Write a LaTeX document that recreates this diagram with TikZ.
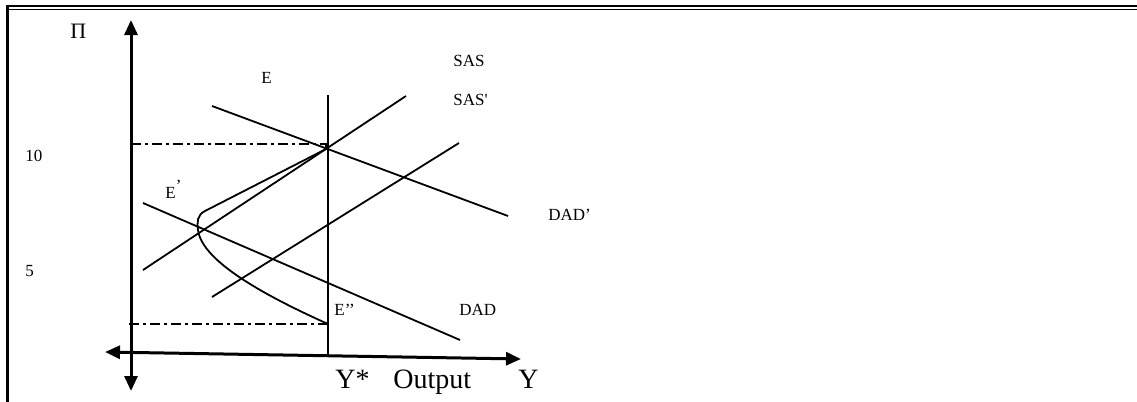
\documentclass[tikz,border=0pt]{standalone}
\usepackage{fontspec}
\setmainfont{Liberation Serif}
\usetikzlibrary{arrows.meta}

\begin{document}
\begin{tikzpicture}[
            x=0.5pt, y=-0.5pt,
            every node/.style={inner sep=0pt, font=\fontsize{8.5}{10}\selectfont},
            % Definición de estilos
            lbl/.style={anchor=base west},
            biglbl/.style={anchor=base west, font=\fontsize{14}{16}\selectfont},
            axis/.style={line width=1.5pt, {Triangle[length=7.5pt,width=6.5pt]}-{Triangle[length=7.5pt,width=6.5pt]}},
            curve/.style={line width=0.9pt},
            guide/.style={line width=0.75pt, dash pattern=on 5pt off 2pt on 1.5pt off 2pt}
        ]
            \useasboundingbox (0,0) rectangle (1137,402);

            % --- Marco ---
            \draw [line width=1.25pt] (6,6) -- (1137,6);
            \draw [line width=0.6pt] (6,9.8) -- (1137,9.8);
            \draw [line width=1.65pt] (7.7,5) -- (7.7,402);

            % --- Puntos ---
            \coordinate (top) at (131,20);
            \coordinate (bot) at (131,391);
            \coordinate (left) at (105,352);
            \coordinate (right) at (521,359);
            \coordinate (ystarTop) at (328,95);
            \coordinate (ystarBot) at (328,356);
            \coordinate (E) at (328,148);
            \coordinate (Epp) at (328,324);

            % --- Ejes ---
            \draw [axis] (bot) -- (top);
            \draw [axis] (left) -- (right);
            \draw [curve] (ystarTop) -- (ystarBot);

            % --- Curvas ---
            \draw [curve] (143,270) -- (406,96);   % SAS
            \draw [curve] (212,297) -- (459,143);  % SAS'
            \draw [curve] (212,106) -- (508,216);  % DAD'
            \draw [curve] (143,203) -- (460,340);  % DAD
            \draw [curve] (E) -- (205,211) .. controls (197,215) and (197,222) .. (198,230)
                  .. controls (202,262) and (268,297) .. (Epp);

            % --- Guias ---
            \draw [guide] (131,144) -- (326,144) -- (326,148);
            \draw [guide] (129,324) -- (Epp);

            % --- Etiquetas ---
            \node (pi) [lbl, font=\fontsize{11}{13}\selectfont] at (70,38) {Π};
            \node (lblE) [lbl] at (261,83) {E};
            \node (lblSAS) [lbl] at (453,66) {SAS};
            \node (lblSASp) [lbl] at (453,105) {SAS\textquotesingle};
            \node (ten) [lbl] at (25,161) {10};
            \node (five) [lbl] at (25,276) {5};
            \node (lblEp) [lbl] at (165,198) {E\raisebox{3.5pt}{’}};
            \node (lblDADp) [lbl] at (548,220) {DAD’};
            \node (lblEpp) [lbl] at (334,315) {E’’};
            \node (lblDAD) [lbl] at (459,315) {DAD};
            \node (ystar) [biglbl] at (335,388) {Y*};
            \node (output) [biglbl] at (393,388) {Output};
            \node (yaxis) [biglbl] at (518,388) {Y};

        \end{tikzpicture}
\end{document}
